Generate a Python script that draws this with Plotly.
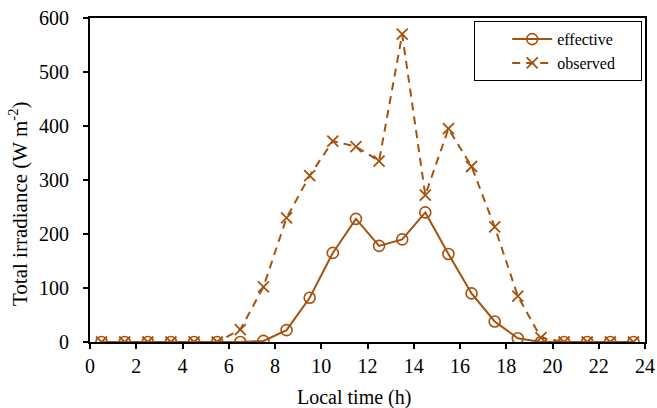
import plotly.graph_objects as go

hours = [0.5, 1.5, 2.5, 3.5, 4.5, 5.5, 6.5, 7.5, 8.5, 9.5, 10.5, 11.5,
         12.5, 13.5, 14.5, 15.5, 16.5, 17.5, 18.5, 19.5, 20.5, 21.5, 22.5, 23.5]
effective = [0, 0, 0, 0, 0, 0, 0, 2, 22, 82, 165, 228,
             178, 190, 240, 163, 90, 38, 7, 0, 0, 0, 0, 0]
observed = [0, 0, 0, 0, 0, 0, 23, 102, 230, 308, 372, 362,
            335, 570, 272, 395, 325, 213, 85, 8, 0, 0, 0, 0]
series_names = ["effective", "observed"]
x_ticks = [0, 2, 4, 6, 8, 10, 12, 14, 16, 18, 20, 22, 24]
y_ticks = [0, 100, 200, 300, 400, 500, 600]

COLOR = "#A5520E"
FONT = "Liberation Serif"
PAD = "\u00a0" * 5  # right padding inside the legend box

fig = go.Figure()
fig.add_trace(go.Scatter(
    x=hours, y=effective, name=series_names[0] + PAD, mode="lines+markers",
    line=dict(color=COLOR, width=2),
    marker=dict(symbol="circle-open", size=11, color=COLOR, line=dict(width=1.6, color=COLOR)),
))
fig.add_trace(go.Scatter(
    x=hours, y=observed, name=series_names[1] + PAD, mode="lines+markers",
    line=dict(color=COLOR, width=2, dash="8px,6px"),
    marker=dict(symbol="x-thin-open", size=11, color=COLOR, line=dict(width=1.8, color=COLOR)),
))

W, H = 657, 408
L, R, T, B = 90, 12, 18, 66
pw = W - L - R
ph = H - T - B

fig.update_layout(
    width=W, height=H,
    margin=dict(l=L, r=R, t=T, b=B, pad=0, autoexpand=False),
    paper_bgcolor="white", plot_bgcolor="white",
    font=dict(family=FONT, size=20, color="black"),
    showlegend=True,
    legend=dict(
        x=(642 - L) / pw, y=(H - B - 21) / ph, xanchor="right", yanchor="top",
        bgcolor="white", bordercolor="black", borderwidth=1.2,
        font=dict(family=FONT, size=16, color="black"),
        tracegroupgap=0, itemwidth=40, indentation=32,
    ),
    xaxis=dict(
        range=[0, 24], tickvals=x_ticks, ticktext=[str(v) for v in x_ticks],
        showgrid=False, zeroline=False, showline=True, linecolor="black", linewidth=2,
        mirror=True, ticks="outside", ticklen=5, tickwidth=1.5, tickcolor="black",
        tickfont=dict(family=FONT, size=20, color="black"),
        automargin=False,
    ),
    yaxis=dict(
        range=[0, 600], tickvals=y_ticks, ticktext=[str(v) for v in y_ticks],
        showgrid=False, zeroline=False, showline=True, linecolor="black", linewidth=2,
        mirror=True, ticks="outside", ticklen=5, tickwidth=1.5, tickcolor="black",
        tickfont=dict(family=FONT, size=20, color="black"),
        ticklabelstandoff=10, automargin=False,
    ),
    annotations=[
        dict(text="Local time (h)", xref="paper", yref="paper",
             x=(354 - L) / pw, y=(H - B - 397) / ph, xanchor="center", yanchor="middle",
             showarrow=False, font=dict(family=FONT, size=20, color="black")),
        dict(text="Total irradiance (W m<sup>-2</sup>)", xref="paper", yref="paper",
             x=(18 - L) / pw, y=(H - B - 204) / ph, xanchor="center", yanchor="middle",
             textangle=-90, showarrow=False, font=dict(family=FONT, size=21, color="black")),
    ],
)

fig.write_html(
    "out.html",
    config={"displayModeBar": False},
    post_script="document.body.style.margin='0';document.body.style.padding='0';"
                "document.documentElement.style.overflow='hidden';",
)
